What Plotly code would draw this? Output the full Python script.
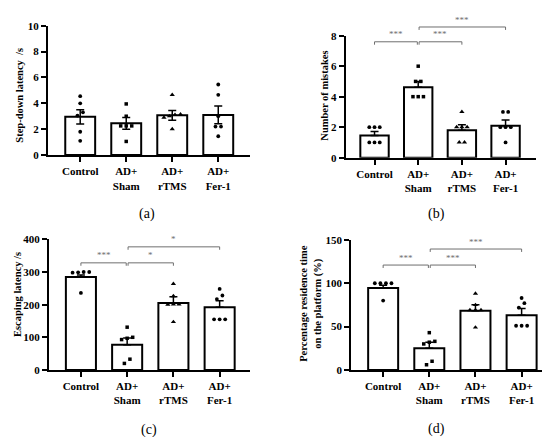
import plotly.graph_objects as go

W, H = 550, 437
SERIF = "Liberation Serif"

groups = ["Control", "AD+<br>Sham", "AD+<br>rTMS", "AD+<br>Fer-1"]
symbols = ["circle", "square", "triangle-up", "circle"]
sizes = [3.8, 3.5, 4.6, 3.8]

# ---- panel (a): step-down latency (s)
a_mean = [2.95, 2.45, 3.07, 3.10]
a_sem = [0.55, 0.45, 0.38, 0.68]
a_ctrl = [4.55, 4.0, 3.3, 3.05, 1.8, 1.1]
a_sham = [3.95, 3.0, 2.25, 2.25, 2.25, 1.05]
a_rtms = [4.65, 3.15, 3.1, 3.0, 2.9, 2.0]
a_fer = [5.45, 4.65, 3.0, 2.2, 2.2, 1.45]

# ---- panel (b): number of mistakes
b_mean = [1.45, 4.62, 1.79, 2.10]
b_sem = [0.27, 0.38, 0.36, 0.37]
b_ctrl = [2, 2, 2, 1, 1, 1]
b_sham = [6, 5, 5, 4, 4, 4]
b_rtms = [3, 2, 2, 2, 1, 1]
b_fer = [3, 3, 2, 2, 2, 1]

# ---- panel (c): escaping latency (s)
c_mean = [285, 77, 205, 192]
c_sem = [6, 21, 19, 20]
c_ctrl = [300, 300, 299, 298, 236]
c_sham = [131, 100, 97, 93, 33, 20]
c_rtms = [264, 226, 201, 201, 200, 147]
c_fer = [248, 228, 217, 155, 155, 155]

# ---- panel (d): percentage residence time on platform (%)
d_mean = [94.6, 25.0, 68.4, 63.2]
d_sem = [3.0, 7.0, 6.8, 7.6]
d_ctrl = [100, 100, 100, 100, 80]
d_sham = [43, 33, 32, 30, 10, 6]
d_rtms = [88, 75, 69, 69, 69, 49]
d_fer = [83, 77, 72, 51, 51, 51]

# significance brackets: (group i, group j, bracket value, label)
b_sig = [(0, 1, 7.6, "***"), (1, 2, 7.6, "***"), (1, 3, 8.57, "***")]
c_sig = [(0, 1, 328, "***"), (1, 2, 328, "*"), (1, 3, 377, "*")]
d_sig = [(0, 1, 121, "***"), (1, 2, 121, "***"), (1, 3, 139.5, "***")]

panels = [
    dict(key="a", xpx=(40, 242), ypx=(12, 145), xr=(-0.70, 3.69), yr=(0, 10),
         ticks=[0, 2, 4, 6, 8, 10], mean=a_mean, sem=a_sem, sym_err=True,
         pts=[a_ctrl, a_sham, a_rtms, a_fer], sig=[],
         title="Step-down latency  /s", tpos=(12, 84), cap="(a)", cpos=(139, 206)),
    dict(key="b", xpx=(337.7, 527.7), ypx=(22.3, 147.7), xr=(-0.66, 3.69), yr=(0, 8),
         ticks=[0, 2, 4, 6, 8], mean=b_mean, sem=b_sem, sym_err=False,
         pts=[b_ctrl, b_sham, b_rtms, b_fer], sig=b_sig,
         title="Number of mistakes", tpos=(316.5, 84.5), cap="(b)", cpos=(428, 206)),
    dict(key="c", xpx=(41, 241.7), ypx=(231.7, 366), xr=(-0.69, 3.65), yr=(0, 400),
         ticks=[0, 100, 200, 300, 400], mean=c_mean, sem=c_sem, sym_err=False,
         pts=[c_ctrl, c_sham, c_rtms, c_fer], sig=c_sig,
         title="Escaping latency /s", tpos=(9, 289), cap="(c)", cpos=(141, 428)),
    dict(key="d", xpx=(343.3, 545), ypx=(232.3, 366), xr=(-0.69, 3.68), yr=(0, 150),
         ticks=[0, 50, 100, 150], mean=d_mean, sem=d_sem, sym_err=False,
         pts=[d_ctrl, d_sham, d_rtms, d_fer], sig=d_sig,
         title="Percentage residence time<br>on the platform (%)", tpos=(303, 298),
         cap="(d)", cpos=(428, 427)),
]


def to_paper(p, xv, yv):
    x0, x1 = p["xpx"]
    ytop, ybot = p["ypx"]
    xr0, xr1 = p["xr"]
    yr0, yr1 = p["yr"]
    xp = x0 + (xv - xr0) / (xr1 - xr0) * (x1 - x0)
    yp = ybot - (yv - yr0) / (yr1 - yr0) * (ybot - ytop)
    return xp / W, 1 - yp / H


def spread(vals, tol, step=0.12):
    offs = [0.0] * len(vals)
    order = sorted(range(len(vals)), key=lambda i: vals[i])
    clusters = []
    for i in order:
        if clusters and abs(vals[i] - vals[clusters[-1][-1]]) <= tol:
            clusters[-1].append(i)
        else:
            clusters.append([i])
    for c in clusters:
        n = len(c)
        for k, i in enumerate(c):
            offs[i] = (k - (n - 1) / 2) * step
    return offs


fig = go.Figure()
layout = dict(
    width=W, height=H, margin=dict(l=0, r=0, t=0, b=0),
    paper_bgcolor="white", plot_bgcolor="white", showlegend=False,
    font=dict(family=SERIF, color="black"),
)
shapes = []
annotations = []
GRAY = "#6e6e6e"

for n, p in enumerate(panels, start=1):
    xa = "x" if n == 1 else f"x{n}"
    ya = "y" if n == 1 else f"y{n}"
    fig.add_trace(go.Bar(
        x=[0, 1, 2, 3], y=p["mean"], width=0.65, xaxis=xa, yaxis=ya,
        marker=dict(color="white", line=dict(color="black", width=2)),
        error_y=dict(type="data", array=p["sem"],
                     arrayminus=p["sem"] if p["sym_err"] else [0] * 4,
                     symmetric=False, color="black", thickness=1.5, width=4),
    ))
    tol = 0.035 * (p["yr"][1] - p["yr"][0])
    for g, vals in enumerate(p["pts"]):
        offs = spread(vals, tol)
        fig.add_trace(go.Scatter(
            x=[g + o for o in offs], y=vals, mode="markers", xaxis=xa, yaxis=ya,
            marker=dict(symbol=symbols[g], size=sizes[g], color="black",
                        line=dict(width=0)),
            cliponaxis=False,
        ))
    x0, x1 = p["xpx"]
    ytop, ybot = p["ypx"]
    axkey_x = "xaxis" if n == 1 else f"xaxis{n}"
    axkey_y = "yaxis" if n == 1 else f"yaxis{n}"
    layout[axkey_x] = dict(
        domain=[x0 / W, x1 / W], range=list(p["xr"]), anchor=ya,
        tickvals=[0, 1, 2, 3], ticktext=groups, ticks="outside", ticklen=5,
        tickwidth=1.5, tickcolor="black", showline=True, linecolor="black",
        linewidth=2, showgrid=False, zeroline=False, fixedrange=True,
        tickfont=dict(family=SERIF, size=11, color="black", weight="bold"),
    )
    layout[axkey_y] = dict(
        domain=[1 - ybot / H, 1 - ytop / H], range=list(p["yr"]), anchor=xa,
        tickvals=p["ticks"], ticks="outside", ticklen=5, tickwidth=1.5,
        tickcolor="black", showline=True, linecolor="black", linewidth=2,
        showgrid=False, zeroline=False, fixedrange=True,
        tickfont=dict(family=SERIF, size=11, color="black", weight="bold"),
    )
    # y-axis title
    annotations.append(dict(
        xref="paper", yref="paper", x=p["tpos"][0] / W, y=1 - p["tpos"][1] / H,
        text=p["title"], textangle=-90, showarrow=False, xanchor="center",
        yanchor="middle",
        font=dict(family=SERIF, size=10.5, color="black", weight="bold"),
    ))
    # panel caption
    annotations.append(dict(
        xref="paper", yref="paper", x=p["cpos"][0] / W, y=1 - p["cpos"][1] / H,
        text=p["cap"], showarrow=False, xanchor="center", yanchor="middle",
        font=dict(family=SERIF, size=14, color="black"),
    ))
    # significance brackets
    for (i, j, yv, lab) in p["sig"]:
        gi = i + (0.02 if i == 1 else 0)
        gj = j - (0.02 if j == 1 else 0)
        xa0, yb = to_paper(p, gi, yv)
        xa1, _ = to_paper(p, gj, yv)
        dy = 3 / H
        shapes.append(dict(
            type="path", xref="paper", yref="paper",
            path=f"M {xa0},{yb - dy} L {xa0},{yb} L {xa1},{yb} L {xa1},{yb - dy}",
            line=dict(color=GRAY, width=1),
        ))
        annotations.append(dict(
            xref="paper", yref="paper", x=(xa0 + xa1) / 2, y=yb + 0.5 / H,
            text=lab, showarrow=False, xanchor="center", yanchor="bottom",
            font=dict(family=SERIF, size=9, color=GRAY),
        ))

layout["shapes"] = shapes
layout["annotations"] = annotations
fig.update_layout(**layout)
fig.write_html("out.html")
